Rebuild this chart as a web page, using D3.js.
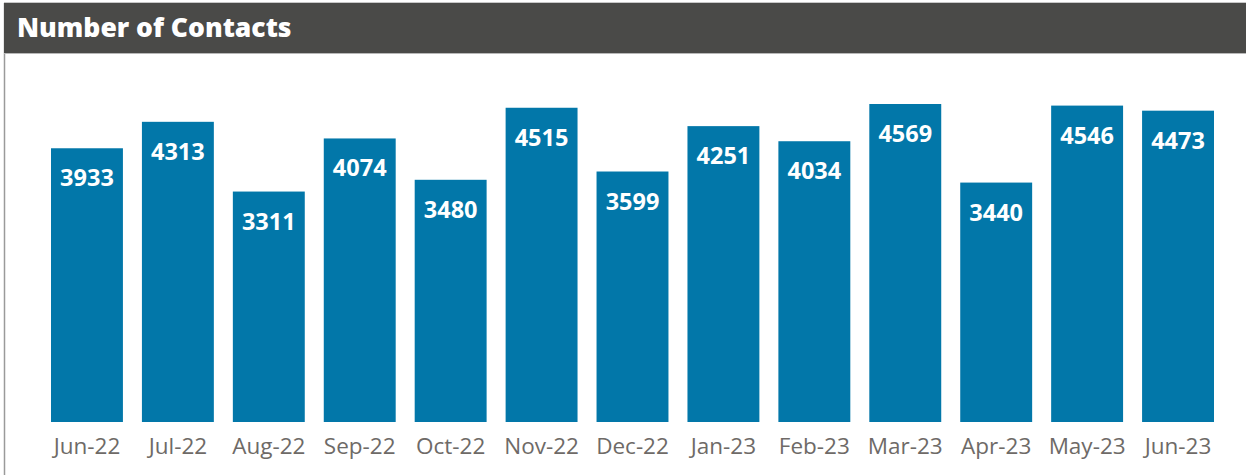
<!DOCTYPE html>
<html lang="en">
    <head>
        <meta charset="utf-8">
        <title>Number of Contacts</title>
        <script type="text/javascript" src="https://d3js.org/d3.v7.min.js"></script>
        <style>
            body { margin: 0; background: #fff; }
            #chart text { font-family: "Open Sans", "Noto Sans", sans-serif; }
            .bars rect { fill: #0277a9; }
            .vals text { fill: #fff; font-weight: 700; font-size: 23.5px; }
            .xaxis text { fill: #6e6a67; font-size: 22.5px; }
        </style>
    </head>
    <body>
        <svg id="chart"></svg>
    </body>
    <script>
        // data
        let months = ["Jun-22","Jul-22","Aug-22","Sep-22","Oct-22","Nov-22","Dec-22",
                      "Jan-23","Feb-23","Mar-23","Apr-23","May-23","Jun-23"];
        let contacts = [3933, 4313, 3311, 4074, 3480, 4515, 3599,
                        4251, 4034, 4569, 3440, 4546, 4473];

        let width = 1246, height = 475;
        let svg = d3.select("#chart").attr("width", width).attr("height", height);

        // panel frame + header
        svg.append("line")
            .attr("x1", 4.5).attr("x2", 4.5).attr("y1", 3).attr("y2", height)
            .attr("stroke", "#9a9a9a").attr("stroke-width", 1.5);
        svg.append("line")
            .attr("x1", 4).attr("x2", width).attr("y1", 2.5).attr("y2", 2.5)
            .attr("stroke", "#c8c8c8");
        svg.append("rect")
            .attr("x", 4).attr("y", 3).attr("width", width - 4).attr("height", 50)
            .attr("fill", "#4a4a48");
        svg.append("line")
            .attr("x1", 4).attr("x2", width).attr("y1", 53.5).attr("y2", 53.5)
            .attr("stroke", "#b8b8b8");
        svg.append("text")
            .attr("x", 17).attr("y", 37)
            .attr("fill", "#fff")
            .style("font-size", "26.5px").style("font-weight", 800)
            .text("Number of Contacts");

        // scales
        let x = d3.scaleBand()
            .domain(months)
            .range([51, 1214])
            .paddingInner(0.209)
            .paddingOuter(0);

        let y = d3.scaleLinear()
            .domain([0, d3.max(contacts)])
            .range([422, 104]);

        let data = months.map((m, i) => ({month: m, value: contacts[i]}));

        svg.append("g").attr("class", "bars")
            .selectAll("rect")
            .data(data)
            .enter()
            .append("rect")
            .attr("x", d => x(d.month))
            .attr("y", d => y(d.value))
            .attr("width", x.bandwidth())
            .attr("height", d => y(0) - y(d.value));

        svg.append("g").attr("class", "vals")
            .selectAll("text")
            .data(data)
            .enter()
            .append("text")
            .attr("x", d => x(d.month) + x.bandwidth() / 2)
            .attr("y", d => y(d.value) + 38)
            .attr("text-anchor", "middle")
            .text(d => d.value);

        let xAxis = svg.append("g").attr("class", "xaxis")
            .attr("transform", "translate(0,422)")
            .call(d3.axisBottom(x).tickSize(0).tickPadding(16));
        xAxis.select(".domain").remove();
        xAxis.selectAll("text").attr("font-family", null).attr("font-size", null);
    </script>
</html>
